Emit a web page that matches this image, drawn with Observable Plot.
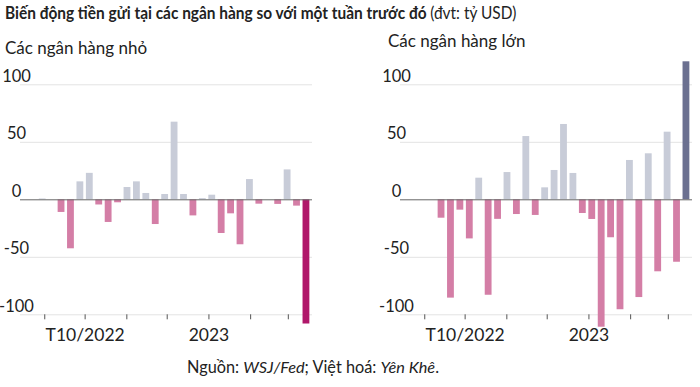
<!DOCTYPE html>
<html>
<head>
<meta charset="utf-8">
<script src="https://cdn.jsdelivr.net/npm/d3@7"></script>
<script src="https://cdn.jsdelivr.net/npm/@observablehq/plot@0.6"></script>
<style>
  html, body { margin: 0; padding: 0; background: #fff; }
  body { width: 700px; height: 387px; position: relative; overflow: hidden; font-family: Lato, sans-serif; color: #222; }
  .t { position: absolute; white-space: nowrap; }
  #title { left: 5px; top: 3px; font-size: 16.6px; font-weight: 700; transform: scaleX(0.93); transform-origin: 0 0; }
  #title span { font-weight: 400; }
  #subL { left: 5px; top: 37px; font-size: 17px; }
  #subR { left: 388px; top: 30px; font-size: 17px; }
  #cap { left: 187px; top: 357px; font-size: 16.3px; }
  #left { position: absolute; left: 0; top: 60px; }
  #right { position: absolute; left: 380px; top: 60px; }
</style>
</head>
<body>
<div id="title" class="t">Biến động tiền gửi tại các ngân hàng so với một tuần trước đó <span>(đvt: tỷ USD)</span></div>
<div id="subL" class="t">Các ngân hàng nhỏ</div>
<div id="subR" class="t">Các ngân hàng lớn</div>
<div id="left"></div>
<div id="right"></div>
<div id="cap" class="t">Nguồn: <i>WSJ/Fed</i>; Việt hoá: <i>Yên Khê</i>.</div>
<script>
// Week-ending dates (weekly H.8 data)
const weeks = [
  "2022-08-31","2022-09-07","2022-09-14","2022-09-21","2022-09-28",
  "2022-10-05","2022-10-12","2022-10-19","2022-10-26",
  "2022-11-02","2022-11-09","2022-11-16","2022-11-23","2022-11-30",
  "2022-12-07","2022-12-14","2022-12-21","2022-12-28",
  "2023-01-04","2023-01-11","2023-01-18","2023-01-25",
  "2023-02-01","2023-02-08","2023-02-15","2023-02-22",
  "2023-03-01","2023-03-08","2023-03-15"
];
// Small banks: weekly change in deposits (bn USD)
const smallBanks = [
  0.7, 0, -11, -42.6, 15.6,
  23, -4.5, -19.7, -2.6,
  10.7, 15.6, 5.5, -21.5, 4.6,
  67.5, 4.6, -14, 1,
  4, -29.3, -12.2, -39.1,
  17.6, -3.8, 0, -4,
  26, -5.5, -108
];
// Large banks: weekly change in deposits (bn USD)
const largeBanks = [
  null, null, -16, -85.5, -9,
  -34, 18.8, -83, -17,
  23.7, -12.8, 55, -13.6, 10.4,
  25.5, 65.5, 22.9, -11.9,
  -17.1, -110.8, -33, -95.6,
  34.2, -85, 40, -62.6,
  58.8, -54.3, 120
];
const highlightWeek = "2023-03-15";
const yTicks = [-100, -50, 0, 50, 100];
const xDomain = ["2022-08-11", "2023-03-16"];
const xLabels = {"2022-10": "T10/2022", "2023-01": "2023"};

const colors = {neg: "#d47ea6", pos: "#c8ccd8", negHi: "#b0176a", posHi: "#6b7090"};

function build(values) {
  return weeks.map((w, i) => {
    const end = new Date(w);
    return {start: d3.utcDay.offset(end, -7), end, value: values[i], hi: w === highlightWeek};
  }).filter(d => d.value != null);
}

function panel(values) {
  const data = build(values);
  return Plot.plot({
    width: 320, height: 290,
    marginLeft: 20, marginRight: 8, marginTop: 1.3, marginBottom: 35.7,
    x: {type: "utc", domain: xDomain.map(s => new Date(s)), label: null},
    y: {domain: [-100, 120], label: null},
    style: {fontFamily: "Lato, sans-serif", fontSize: "16.5px", color: "#222", background: "transparent", overflow: "visible"},
    marks: [
      Plot.gridY(yTicks.filter(t => t !== 0), {stroke: "#e3e3e3", strokeOpacity: 1}),
      Plot.rectY(data, {
        x1: "start", x2: "end", y: "value",
        insetLeft: 1.3, insetRight: 1.3,
        fill: d => d.hi ? (d.value < 0 ? colors.negHi : colors.posHi) : (d.value < 0 ? colors.neg : colors.pos)
      }),
      Plot.ruleY([0], {stroke: "#666", strokeWidth: 1}),
      Plot.axisY(yTicks, {tickSize: 0, textAnchor: "middle", dx: 5, dy: -8.5, fill: "#222", fontSize: 16.5, label: null,
        tickFormat: d => String(d)}),
      Plot.axisX({
        ticks: d3.utcMonth.every(1),
        tickSize: 5, stroke: "#555",
        tickPadding: 9, dx: -4, label: null,
        fill: "#222", fontSize: 17.5,
        tickFormat: d => xLabels[d3.utcFormat("%Y-%m")(d)] || ""
      })
    ]
  });
}

document.getElementById("left").append(panel(smallBanks));
document.getElementById("right").append(panel(largeBanks));
</script>
</body>
</html>
